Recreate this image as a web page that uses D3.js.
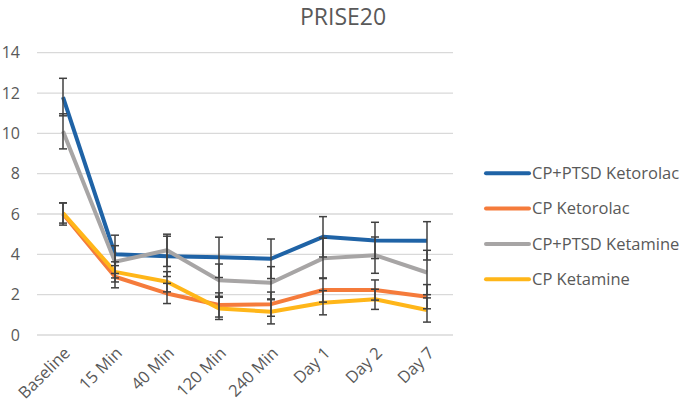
<!DOCTYPE html>
<html><head><meta charset="utf-8">
<script src="https://cdn.jsdelivr.net/npm/d3@7/dist/d3.min.js"></script>
<style>body{margin:0;background:#fff;} text{font-family:"Open Sans","Noto Sans",sans-serif;}</style>
</head><body><svg id="c" width="680" height="406"></svg>
<script>
const categories = ["Baseline","15 Min","40 Min","120 Min","240 Min","Day 1","Day 2","Day 7"];
const seriesNames = ["CP+PTSD Ketorolac","CP Ketorolac","CP+PTSD Ketamine","CP Ketamine"];
const ptsdKetorolac = [11.8, 4.0, 3.9, 3.85, 3.78, 4.87, 4.69, 4.67];
const cpKetorolac   = [6.0, 2.89, 2.06, 1.49, 1.53, 2.23, 2.23, 1.9];
const ptsdKetamine  = [10.1, 3.63, 4.2, 2.72, 2.59, 3.8, 3.96, 3.1];
const cpKetamine    = [6.05, 3.13, 2.64, 1.32, 1.15, 1.6, 1.77, 1.24];
const errPtsdKetorolac = [0.93, 0.95, 1.0, 1.0, 0.98, 1.0, 0.9, 0.95];
const errCpKetorolac   = [0.55, 0.55, 0.5, 0.6, 0.6, 0.6, 0.5, 0.6];
const errPtsdKetamine  = [0.87, 0.8, 0.8, 0.8, 0.8, 1.0, 0.9, 1.1];
const errCpKetamine    = [0.5, 0.5, 0.5, 0.55, 0.6, 0.6, 0.5, 0.6];
const yTicks = [0,2,4,6,8,10,12,14];
const colors = ["#1f63a6","#f57b3b","#a7a5a5","#ffb619"];

const values = [ptsdKetorolac, cpKetorolac, ptsdKetamine, cpKetamine];
const errors = [errPtsdKetorolac, errCpKetorolac, errPtsdKetamine, errCpKetamine];

const svg = d3.select("#c");
const x = d3.scaleBand().domain(categories).range([37,453]);
const y = d3.scaleLinear().domain([0,14]).range([335,52.7]);
const cx = c => x(c) + x.bandwidth()/2;

svg.append("text").attr("x",343).attr("y",25).attr("text-anchor","middle")
  .attr("font-size",23).attr("fill","#595959").text("PRISE20");

// grid
svg.append("g").selectAll("line").data(yTicks).join("line")
  .attr("x1",37).attr("x2",453).attr("y1",d=>y(d)).attr("y2",d=>y(d))
  .attr("stroke","#d9d9d9").attr("stroke-width",1.3);

const yAxis = d3.axisLeft(y).tickValues(yTicks).tickSize(0).tickPadding(0);
const ga = svg.append("g").attr("transform","translate(20,0)").call(yAxis);
ga.select(".domain").remove();
ga.selectAll("text").attr("font-size",16).attr("fill","#595959").attr("font-family","Open Sans, sans-serif");

const xAxis = d3.axisBottom(x).tickSize(0).tickPadding(0);
const gx = svg.append("g").attr("transform","translate(0,350)").call(xAxis);
gx.select(".domain").remove();
gx.selectAll("text").attr("font-size",16.5).attr("fill","#595959").attr("font-family","Open Sans, sans-serif")
  .attr("text-anchor","end").attr("dy","0.35em").attr("transform","translate(4,0) rotate(-45)");

const line = d3.line().x((d,i)=>cx(categories[i])).y(d=>y(d));
values.forEach((v,k)=>{
  svg.append("path").datum(v).attr("d",line).attr("fill","none")
    .attr("stroke",colors[k]).attr("stroke-width",4).attr("stroke-linejoin","round");
});

// error bars
const eg = svg.append("g").attr("stroke","#404040").attr("stroke-width",1.5);
values.forEach((v,k)=>{
  v.forEach((val,i)=>{
    const xc = cx(categories[i]);
    const e = errors[k][i];
    eg.append("line").attr("x1",xc).attr("x2",xc).attr("y1",y(val+e)).attr("y2",y(val-e));
    [val+e,val-e].forEach(t=>eg.append("line").attr("x1",xc-4).attr("x2",xc+4).attr("y1",y(t)).attr("y2",y(t)));
  });
});

// legend
const lg = svg.append("g");
seriesNames.forEach((n,k)=>{
  const yy = 173.3 + k*35.3;
  lg.append("line").attr("x1",486).attr("x2",529).attr("y1",yy).attr("y2",yy)
    .attr("stroke",colors[k]).attr("stroke-width",4).attr("stroke-linecap","round");
  lg.append("text").attr("x",532).attr("y",yy).attr("dy","0.35em").attr("font-size",16.5)
    .attr("fill","#595959").text(n);
});
</script></body></html>
